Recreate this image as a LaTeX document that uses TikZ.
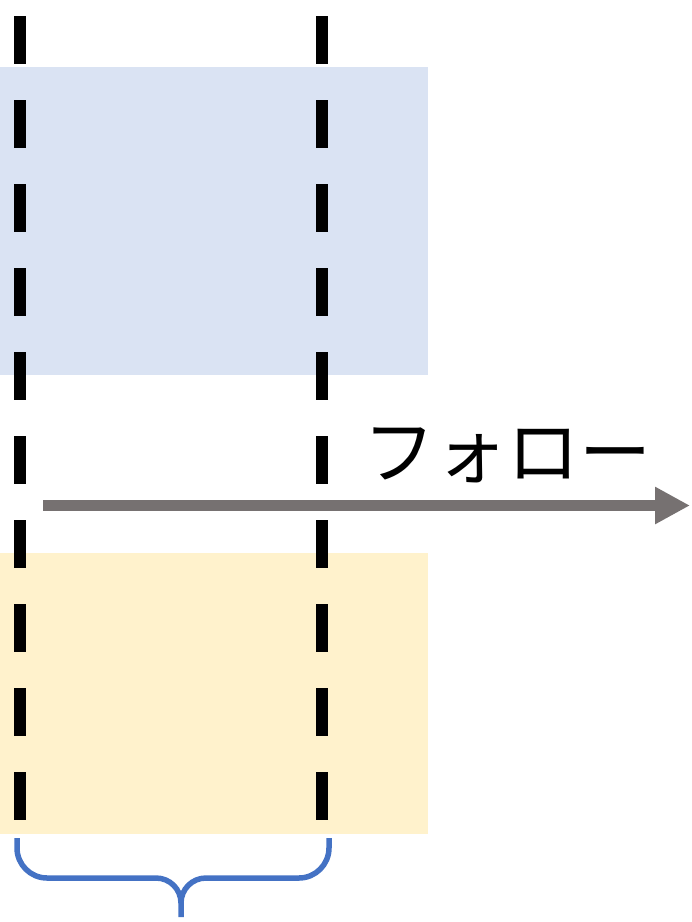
\documentclass[tikz,border=0pt]{standalone}
\usepackage{fontspec}
\newfontfamily\jpfont{Noto Sans CJK JP}
\usetikzlibrary{arrows.meta}
\definecolor{boxblue}{HTML}{DAE3F3}
\definecolor{boxyellow}{HTML}{FFF2CC}
\definecolor{arrowgray}{HTML}{767171}
\definecolor{braceblue}{HTML}{4472C4}
\tikzset{
  panel/.style={inner sep=0pt, outer sep=0pt, minimum width=428pt, anchor=north west},
  guide/.style={line width=12pt, black, dash pattern=on 48pt off 36pt},
  flow/.style={line width=11pt, arrowgray, -{Triangle[length=35pt,width=35pt]}},
  brace/.style={line width=5.5pt, braceblue, line cap=butt},
  lbl/.style={font=\jpfont\fontsize{72}{86}\selectfont, inner sep=0pt}
}
\begin{document}
\begin{tikzpicture}[x=1pt,y=-1pt]
\useasboundingbox (0,0) rectangle (692,922);
\node[panel, fill=boxblue, minimum height=308pt] (top) at (0,67) {};
\node[panel, fill=boxyellow, minimum height=281pt] (bottom) at (0,553) {};
\coordinate (l1) at (20,16);
\coordinate (l2) at (20,822);
\coordinate (r1) at (322,16);
\coordinate (r2) at (322,822);
\draw[guide] (l1) -- (l2);
\draw[guide] (r1) -- (r2);
\coordinate (a1) at (43,505.5);
\coordinate (a2) at (690,505.5);
\draw[flow] (a1) -- (a2);
\node[lbl] (follow) at (507,455) {フォロー};
\coordinate (b1) at (17,838);
\coordinate (bm) at (181,917);
\coordinate (b2) at (329,838);
\draw[brace] (b1) -- (17,848) .. controls (17,864.5) and (30.5,878) .. (47,878) -- (156,878) .. controls (169.8,878) and (181,889.2) .. (181,903) -- (bm);
\draw[brace] (181,903) .. controls (181,889.2) and (192.2,878) .. (206,878) -- (299,878) .. controls (315.5,878) and (329,864.5) .. (329,848) -- (b2);
\end{tikzpicture}
\end{document}
